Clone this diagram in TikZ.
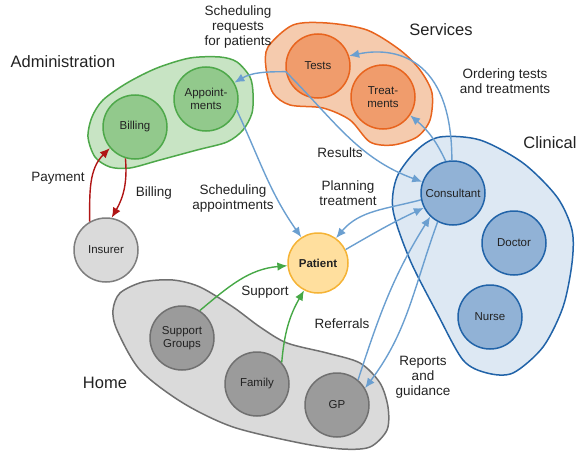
\documentclass[tikz,border=0pt]{standalone}
\usepackage{fontspec}
\setmainfont{Liberation Sans}
\usetikzlibrary{arrows.meta}

\definecolor{admfill}{HTML}{C8E4C4}
\definecolor{admline}{HTML}{4EA84A}
\definecolor{admnode}{HTML}{92C98C}
\definecolor{srvfill}{HTML}{F5CBAE}
\definecolor{srvline}{HTML}{E8641E}
\definecolor{srvnode}{HTML}{F09C6C}
\definecolor{clnfill}{HTML}{DDE8F3}
\definecolor{clnline}{HTML}{2163A8}
\definecolor{clnnode}{HTML}{91B2D6}
\definecolor{homfill}{HTML}{DADADA}
\definecolor{homline}{HTML}{707070}
\definecolor{homnode}{HTML}{9B9B9B}
\definecolor{patfill}{HTML}{FFDF9E}
\definecolor{patline}{HTML}{F5B335}
\definecolor{flowblue}{HTML}{6B9FD0}
\definecolor{flowgreen}{HTML}{46A846}
\definecolor{flowred}{HTML}{B01515}
\definecolor{txt}{HTML}{222222}

\tikzset{
    role/.style={circle, draw, line width=1.5pt, minimum size=64pt, inner sep=0pt,
        align=center, text=txt, font=\fontsize{11.5}{12.5}\selectfont},
    adm/.style={role, fill=admnode, draw=admline},
    srv/.style={role, fill=srvnode, draw=srvline},
    cln/.style={role, fill=clnnode, draw=clnline},
    hom/.style={role, fill=homnode, draw=homline},
    blob/.style={line width=1.5pt},
    group/.style={text=txt, font=\fontsize{16.5}{18}\selectfont},
    lbl/.style={align=center, text=txt, font=\fontsize{13.5}{15}\selectfont},
    flow/.style={-{Latex[length=10pt,width=8.5pt]}, line width=1.4pt, draw=flowblue},
}

\begin{document}
\begin{tikzpicture}[x=1pt, y=1pt]
    \useasboundingbox (0,0) rectangle (577,-452);

    \draw[blob, fill=admfill, draw=admline] plot[smooth cycle] coordinates {
        (190,-58) (220,-57) (237,-62) (250,-77) (253,-93) (252,-113) (243,-130)
        (227,-142) (197,-150) (160,-160) (130,-168) (110,-167) (95,-157)
        (88,-137) (92,-117) (103,-100) (127,-83) (157,-68)};
    \draw[blob, fill=srvfill, draw=srvline] plot[smooth cycle] coordinates {
        (268,-47) (293,-25) (327,-23) (367,-30) (400,-50) (420,-70) (432,-93)
        (430,-120) (417,-137) (393,-145) (370,-142) (350,-120) (323,-108)
        (290,-105) (273,-93) (266,-68)};
    \draw[blob, fill=clnfill, draw=clnline] plot[smooth cycle] coordinates {
        (440,-137) (480,-140) (523,-163) (557,-197) (572,-230) (572,-263)
        (563,-307) (543,-347) (513,-373) (487,-373) (463,-360) (437,-313)
        (410,-260) (393,-210) (397,-177) (417,-150)};
    \draw[blob, fill=homfill, draw=homline] plot[smooth cycle] coordinates {
        (120,-293) (143,-282) (173,-280) (200,-287) (233,-307) (260,-327)
        (287,-343) (327,-353) (360,-363) (380,-383) (388,-407) (387,-430)
        (370,-447) (342,-449) (300,-443) (233,-427) (183,-403) (140,-370)
        (117,-330) (113,-310)};

    \node[group] (admin)    at (63,-62)   {Administration};
    \node[group] (services) at (441,-30)  {Services};
    \node[group] (clinical) at (550,-143) {Clinical};
    \node[group] (home)     at (105,-383) {Home};

    \node[adm](billing)     at (135,-127) {Billing};
    \node[adm](appts)       at (206,-99)  {Appoint-\\ments};
    \node[srv](tests)       at (318,-66)  {Tests};
    \node[srv](treat)       at (383,-97)  {Treat-\\ments};
    \node[cln](consultant)  at (453,-193) {Consultant};
    \node[cln](doctor)      at (514,-243) {Doctor};
    \node[cln](nurse)       at (490,-317) {Nurse};
    \node[role, minimum size=60pt, fill=patfill, draw=patline, font=\fontsize{11.5}{12.5}\selectfont\bfseries]
        (patient)           at (318,-263) {Patient};
    \node[role, fill=homfill, draw=homline!90](insurer) at (106,-250) {Insurer};
    \node[hom](groups)      at (182,-338) {Support\\Groups};
    \node[hom](family)      at (257,-384) {Family};
    \node[hom](gp)          at (337,-405) {GP};

    \node[lbl] (l-requests) at (238,-27)  {Scheduling\\requests\\for patients};
    \node[lbl] (l-appts)    at (233,-199) {Scheduling\\appointments};
    \node[lbl] (l-results)  at (340,-153) {Results};
    \node[lbl] (l-planning) at (348,-193) {Planning\\treatment};
    \node[lbl] (l-ordering) at (505,-81)  {Ordering tests\\and treatments};
    \node[lbl] (l-referral) at (342,-324) {Referrals};
    \node[lbl] (l-reports)  at (423,-377) {Reports\\and\\guidance};
    \node[lbl] (l-support)  at (265,-292) {Support};
    \node[lbl] (l-payment)  at (58,-178)  {Payment};
    \node[lbl] (l-billing)  at (154,-193) {Billing};

    \path
        (tests.190)
            edge [flow, out=180, in=30] (appts.30)
            edge [flow, out=-45, in=160] (consultant.160)
        (appts.-20)
            edge [flow, out=-65, in=125] (patient.123)
        (consultant.92)
            edge [flow, out=90, in=12, out distance=105pt, in distance=45pt] (tests.18)
        (consultant.103)
            edge [flow, out=115, in=-40] (treat.-34)
        (consultant.192)
            edge [flow, out=195, in=50] (patient.54)
        (consultant.242)
            edge [flow, out=250, in=53] (gp.31)
        (patient.26)
            edge [flow, out=30, in=205] (consultant.207)
        (gp.50)
            edge [flow, out=72, in=238] (consultant.226)
        (groups.57)
            edge [flow, draw=flowgreen, out=40, in=185] (patient.185)
        (family.41)
            edge [flow, draw=flowgreen, out=85, in=240] (patient.243)
        (insurer.120)
            edge [flow, draw=flowred, out=90, in=225] (billing.220)
        (billing.253)
            edge [flow, draw=flowred, out=-85, in=60] (insurer.80)
        ;
\end{tikzpicture}
\end{document}
